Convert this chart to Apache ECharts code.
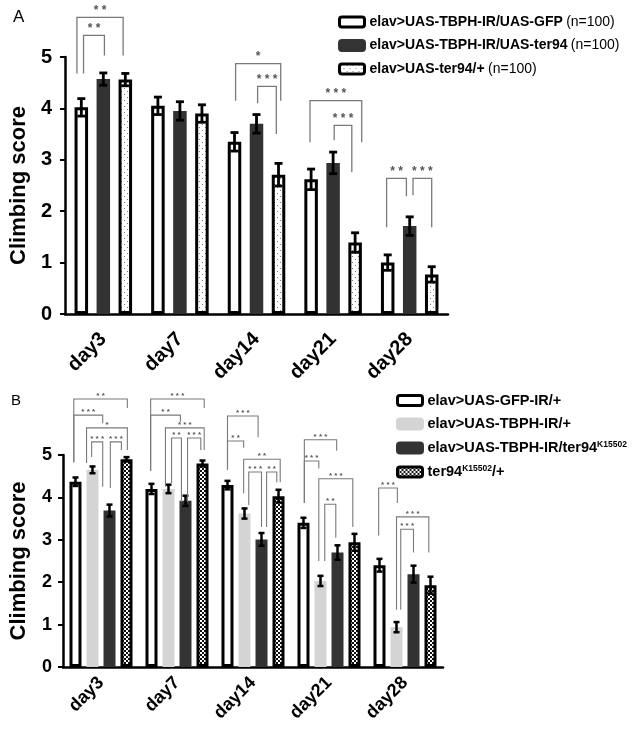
<!DOCTYPE html>
<html><head><meta charset="utf-8">
<script src="https://cdn.jsdelivr.net/npm/echarts@6/dist/echarts.min.js"></script>
<style>html,body{margin:0;padding:0;background:#fff}#c{width:633px;height:736px}</style>
</head><body><div id="c"></div>
<script>
// ---------- data ----------
const days = ['day3', 'day7', 'day14', 'day21', 'day28'];
const yTicks = [0, 1, 2, 3, 4, 5];

// Panel A
const namesA = ['elav>UAS-TBPH-IR/UAS-GFP', 'elav>UAS-TBPH-IR/UAS-ter94', 'elav>UAS-ter94/+'];
const nA = [100, 100, 100];
const gfpA = [4.02, 4.05, 3.35, 2.62, 1.0];
const gfpErrA = [0.17, 0.17, 0.18, 0.2, 0.15];
const ter94A = [4.57, 3.95, 3.7, 2.94, 1.71];
const ter94ErrA = [0.12, 0.18, 0.18, 0.21, 0.18];
const oeA = [4.56, 3.9, 2.71, 1.39, 0.77];
const oeErrA = [0.12, 0.17, 0.22, 0.19, 0.15];
// significance brackets: [day, leftBar, rightBar, top, leftFoot, rightFoot, label]
const sigA = [
  [0, 0.1, 1.05, 5.42, 4.68, 5.03, '**'],
  [0, -0.2, 1.9, 5.77, 4.68, 5.03, '**'],
  [2, 0.05, 2.1, 4.87, 4.15, 4.15, '*'],
  [2, 1.05, 1.9, 4.43, 4.1, 3.5, '***'],
  [3, -0.05, 2.3, 4.15, 3.34, 3.34, '***'],
  [3, 1.05, 1.85, 3.67, 3.38, 2.76, '***'],
  [4, -0.05, 0.85, 2.64, 1.69, 2.29, '**'],
  [4, 1.15, 2.0, 2.64, 2.31, 1.69, '***']
];

// Panel B
const namesB = ['elav>UAS-GFP-IR/+', 'elav>UAS-TBPH-IR/+', 'elav>UAS-TBPH-IR/ter94^K15502', 'ter94^K15502/+'];
const gfpB = [4.37, 4.2, 4.29, 3.4, 2.4];
const gfpErrB = [0.1, 0.12, 0.1, 0.12, 0.15];
const tbphB = [4.65, 4.2, 3.62, 2.03, 0.94];
const tbphErrB = [0.08, 0.1, 0.12, 0.12, 0.12];
const dblB = [3.69, 3.92, 3.01, 2.7, 2.19];
const dblErrB = [0.14, 0.12, 0.15, 0.17, 0.2];
const mutB = [4.9, 4.8, 4.03, 2.94, 1.93];
const mutErrB = [0.05, 0.07, 0.15, 0.2, 0.2];
const sigB = [
  [0, -0.1, 3.05, 6.32, 4.83, 6.11, '**'],
  [0, -0.1, 1.6, 5.94, 4.83, 5.75, '***'],
  [0, 0.65, 3.05, 5.64, 4.81, 5.12, '*'],
  [0, 0.95, 1.6, 5.31, 4.95, 4.25, '***'],
  [0, 2.05, 2.7, 5.31, 4.22, 5.12, '***'],
  [1, -0.05, 3.1, 6.32, 4.62, 6.11, '***'],
  [1, -0.05, 1.7, 5.94, 4.62, 5.78, '**'],
  [1, 0.82, 3.1, 5.64, 4.25, 5.12, '***'],
  [1, 1.18, 1.76, 5.4, 4.34, 3.89, '**'],
  [1, 2.12, 2.9, 5.4, 3.89, 5.12, '***'],
  [2, 0, 1.8, 5.92, 4.65, 5.42, '***'],
  [2, 0, 0.95, 5.33, 4.65, 5.17, '**'],
  [2, 0.95, 3.1, 4.9, 4.1, 4.36, '**'],
  [2, 1.25, 2.0, 4.6, 3.82, 3.3, '***'],
  [2, 2.3, 2.9, 4.6, 3.3, 4.36, '**'],
  [3, 0.05, 1.95, 5.36, 3.87, 5.1, '***'],
  [3, 0.05, 0.9, 4.86, 3.87, 4.68, '***'],
  [3, 0.9, 2.9, 4.44, 2.5, 3.3, '***'],
  [3, 1.25, 1.9, 3.84, 2.5, 3.05, '**'],
  [4, -0.05, 1.05, 4.22, 3.1, 3.87, '***'],
  [4, 1.0, 2.9, 3.54, 1.35, 2.7, '***'],
  [4, 1.25, 2.0, 3.25, 1.35, 2.7, '***']
];

// ---------- styles ----------
const FONT = "'Liberation Sans', Arial, sans-serif";
function makePattern(size, bg, draw) {
  const c = document.createElement('canvas');
  c.width = size; c.height = size;
  const g = c.getContext('2d');
  g.fillStyle = bg; g.fillRect(0, 0, size, size);
  draw(g);
  return { image: c, repeat: 'repeat' };
}
const dotPattern = makePattern(6, '#ffffff', g => { g.fillStyle = '#7a7a7a'; g.fillRect(1, 1, 1, 1); g.fillRect(4, 4, 1, 1); });
const checkPattern = makePattern(4, '#111111', g => { g.fillStyle = '#ffffff'; g.fillRect(0, 0, 2, 2); g.fillRect(2, 2, 2, 2); });

const barWA = 13.5, gapA = 0.63, pitchA = barWA * (1 + gapA);
const barWB = 12, gapB = 0.417, pitchB = barWB * (1 + gapB);

function barSeries(name, data, gi, color, border, bw, gap) {
  return {
    type: 'bar', name, data, xAxisIndex: gi, yAxisIndex: gi,
    barWidth: bw, barGap: (gap * 100) + '%',
    itemStyle: { color, borderColor: border, borderWidth: 3 },
    emphasis: { disabled: true }, silent: true, z: 2
  };
}
function errSeries(vals, errs, gi, pos, n, pitch, cap, lw) {
  return {
    type: 'custom', xAxisIndex: gi, yAxisIndex: gi, z: 5, silent: true,
    data: vals.map((v, i) => [i, v, errs[i]]),
    renderItem: (params, api) => {
      const cat = api.value(0), v = api.value(1), e = api.value(2);
      const cx = api.coord([cat, 0])[0] + (pos - (n - 1) / 2) * pitch;
      const yt = api.coord([cat, v + e])[1], yb = api.coord([cat, v - e])[1];
      const st = { stroke: '#000', lineWidth: lw };
      return { type: 'group', children: [
        { type: 'line', shape: { x1: cx, y1: yt, x2: cx, y2: yb }, style: st },
        { type: 'line', shape: { x1: cx - cap / 2, y1: yt, x2: cx + cap / 2, y2: yt }, style: st },
        { type: 'line', shape: { x1: cx - cap / 2, y1: yb, x2: cx + cap / 2, y2: yb }, style: st }
      ] };
    }
  };
}
function sigSeries(sig, gi, n, pitch, fontSize, lineColor, lw, lift) {
  return {
    type: 'custom', xAxisIndex: gi, yAxisIndex: gi, z: 6, silent: true, clip: false,
    data: sig.map(s => [s[0], s[3]]),
    renderItem: (params, api) => {
      const s = sig[params.dataIndex];
      const c0 = api.coord([s[0], 0])[0];
      const xl = c0 + (s[1] - (n - 1) / 2) * pitch;
      const xr = c0 + (s[2] - (n - 1) / 2) * pitch;
      const yTop = api.coord([s[0], s[3]])[1];
      const yL = api.coord([s[0], s[4]])[1];
      const yR = api.coord([s[0], s[5]])[1];
      return { type: 'group', children: [
        { type: 'polyline', shape: { points: [[xl, yL], [xl, yTop], [xr, yTop], [xr, yR]] },
          style: { stroke: lineColor, lineWidth: lw, fill: null } },
        { type: 'text', x: (xl + xr) / 2, y: yTop - lift,
          style: { text: s[6].split('').join(' '), fill: '#555', font: 'bold ' + fontSize + 'px ' + FONT,
                   textAlign: 'center', textVerticalAlign: 'middle', align: 'center', verticalAlign: 'middle' } }
      ] };
    }
  };
}

function xAxis(gi, fs, margin) {
  return {
    type: 'category', data: days, gridIndex: gi,
    axisLine: { lineStyle: { color: '#000', width: 2.5 } },
    axisTick: { show: false },
    axisLabel: { rotate: 45, color: '#000', fontFamily: FONT, fontWeight: 'bold', fontSize: fs, margin }
  };
}
function yAxis(gi, fs, nameGap, margin) {
  return {
    type: 'value', gridIndex: gi, min: yTicks[0], max: yTicks[yTicks.length - 1], interval: 1,
    name: 'Climbing score', nameLocation: 'middle', nameGap,
    nameTextStyle: { color: '#000', fontFamily: FONT, fontWeight: 'bold', fontSize: 22 },
    axisLine: { show: true, lineStyle: { color: '#000', width: 2.5 } },
    axisTick: { show: true, length: 5, lineStyle: { color: '#000', width: 2 } },
    splitLine: { show: false },
    axisLabel: { color: '#000', fontFamily: FONT, fontWeight: 'bold', fontSize: fs, margin }
  };
}

const option = {
  backgroundColor: '#fff',
  animation: false,
  title: [
    { text: 'A', left: 8, top: 4, textStyle: { fontFamily: FONT, fontWeight: 'normal', fontSize: 17, color: '#000' } },
    { text: 'B', left: 6, top: 388, textStyle: { fontFamily: FONT, fontWeight: 'normal', fontSize: 15, color: '#000' } }
  ],
  grid: [
    { left: 58, top: 57, width: 390, height: 257 },
    { left: 60, top: 455, width: 383, height: 212 }
  ],
  xAxis: [xAxis(0, 20, 22), xAxis(1, 18, 13)],
  yAxis: [yAxis(0, 20, 30, 13), yAxis(1, 18, 33, 11)],
  legend: [
    {
      data: namesA, orient: 'vertical', left: 333, top: 10, itemWidth: 25, itemHeight: 10, itemGap: 9.5,
      icon: 'roundRect', selectedMode: false,
      itemStyle: { borderWidth: 3 },
      formatter: name => '{b|' + name + '} {n|(n=' + nA[namesA.indexOf(name)] + ')}',
      textStyle: { rich: {
        b: { fontFamily: FONT, fontWeight: 'bold', fontSize: 14, color: '#000', lineHeight: 16 },
        n: { fontFamily: FONT, fontWeight: 'normal', fontSize: 14, color: '#000', lineHeight: 16 }
      } }
    },
    {
      data: namesB, orient: 'vertical', left: 391, top: 388, itemWidth: 25, itemHeight: 10, itemGap: 8.5,
      icon: 'roundRect', selectedMode: false,
      itemStyle: { borderWidth: 3 },
      formatter: name => '{b|' + name.replace(/\^(\w+)/g, '}{s|$1}{b|') + '}',
      textStyle: { rich: {
        b: { fontFamily: FONT, fontWeight: 'bold', fontSize: 14.5, color: '#000', lineHeight: 16 },
        s: { fontFamily: FONT, fontWeight: 'bold', fontSize: 8.5, color: '#000', lineHeight: 16, verticalAlign: 'top', padding: [0, 0, 6, 0] }
      } }
    }
  ],
  series: [
    barSeries(namesA[0], gfpA, 0, '#ffffff', '#000', barWA, gapA),
    barSeries(namesA[1], ter94A, 0, '#333333', '#333333', barWA, gapA),
    barSeries(namesA[2], oeA, 0, dotPattern, '#000', barWA, gapA),
    errSeries(gfpA, gfpErrA, 0, 0, 3, pitchA, 8, 2.8),
    errSeries(ter94A, ter94ErrA, 0, 1, 3, pitchA, 8, 2.8),
    errSeries(oeA, oeErrA, 0, 2, 3, pitchA, 8, 2.8),
    sigSeries(sigA, 0, 3, pitchA, 12, '#7a7a7a', 1.3, 7),

    barSeries(namesB[0], gfpB, 1, '#ffffff', '#000', barWB, gapB),
    barSeries(namesB[1], tbphB, 1, '#d4d4d4', '#d4d4d4', barWB, gapB),
    barSeries(namesB[2], dblB, 1, '#333333', '#333333', barWB, gapB),
    barSeries(namesB[3], mutB, 1, checkPattern, '#000', barWB, gapB),
    errSeries(gfpB, gfpErrB, 1, 0, 4, pitchB, 6, 2.5),
    errSeries(tbphB, tbphErrB, 1, 1, 4, pitchB, 6, 2.5),
    errSeries(dblB, dblErrB, 1, 2, 4, pitchB, 6, 2.5),
    errSeries(mutB, mutErrB, 1, 3, 4, pitchB, 6, 2.5),
    sigSeries(sigB, 1, 4, pitchB, 8, '#7a7a7a', 1.1, 3)
  ]
};
const chart = echarts.init(document.getElementById('c'), null, { renderer: 'canvas' });
chart.setOption(option);
</script>
</body></html>
